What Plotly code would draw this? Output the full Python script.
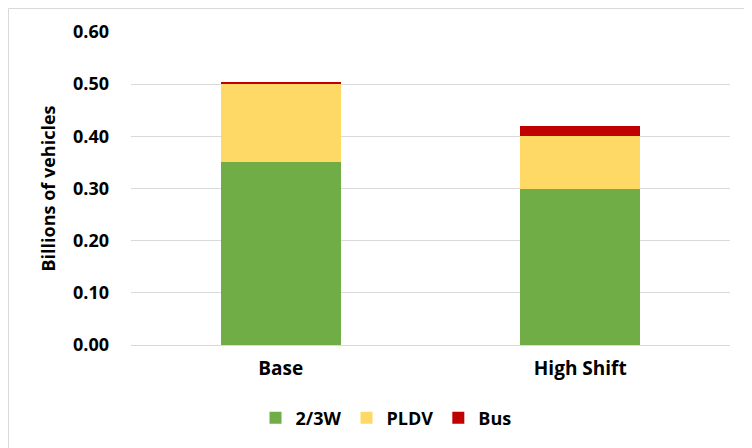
import plotly.graph_objects as go

categories = ["Base", "High Shift"]
series_names = ["2/3W", "PLDV", "Bus"]
vals_23w = [0.35, 0.30]
vals_pldv = [0.15, 0.10]
vals_bus = [0.005, 0.02]
colors = ["#70AD47", "#FFD966", "#C00000"]
y_ticks = [0.0, 0.1, 0.2, 0.3, 0.4, 0.5, 0.6]

FONT = "Open Sans"

fig = go.Figure()
for name, vals, col in zip(series_names, [vals_23w, vals_pldv, vals_bus], colors):
    fig.add_trace(go.Bar(x=categories, y=vals, name=name, marker_color=col,
                         marker_line_width=0))

# page body adds an 8px offset; layout coordinates are screen coordinates minus 8
OFF = 8
W, H = 744, 440
L, R, T, B = 131 - OFF, W - (730 - OFF), 32 - OFF, H - (345 - OFF)
pw, ph = W - L - R, H - T - B


def py(p):
    return (H - B - (p - OFF)) / ph


def px(p):
    return ((p - OFF) - L) / pw


fig.update_layout(
    width=W, height=H,
    barmode="stack", bargap=0.6,
    margin=dict(l=L, r=R, t=T, b=B, autoexpand=False),
    plot_bgcolor="white", paper_bgcolor="white",
    font=dict(family=FONT, size=15, color="#000000"),
    legend=dict(orientation="h", x=px(386), xanchor="center", y=py(418), yanchor="middle",
                font=dict(family=FONT, size=18, weight="bold"),
                itemwidth=30, traceorder="normal"),
    yaxis=dict(range=[0, 0.6], tickvals=y_ticks, tickformat=".2f",
               showgrid=True, gridcolor="#D9D9D9", gridwidth=1,
               zeroline=True, zerolinecolor="#D9D9D9", zerolinewidth=1,
               showline=False, ticks="", ticklabelstandoff=21, automargin=False,
               tickfont=dict(family=FONT, size=18, weight="bold"),
               title=dict(text="Billions of vehicles", standoff=12,
                          font=dict(family=FONT, size=18, weight="bold"))),
    xaxis=dict(showline=False, ticks="", ticklabelstandoff=10, automargin=False,
               tickfont=dict(family=FONT, size=19, weight="bold")),
    shapes=[dict(type="rect", xref="paper", yref="paper",
                 x0=px(8.5), x1=px(751.5), y0=py(455), y1=py(8.5),
                 line=dict(color="#D9D9D9", width=1), layer="below")],
)

fig.write_html("out.html")
